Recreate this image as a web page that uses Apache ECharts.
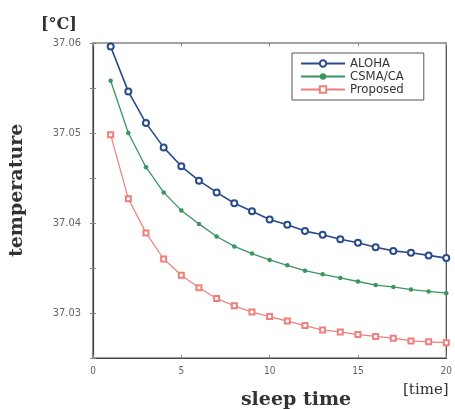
<!DOCTYPE html>
<html><head><meta charset="utf-8">
<script src="https://cdn.jsdelivr.net/npm/echarts@6/dist/echarts.min.js"></script>
<style>html,body{margin:0;padding:0;background:#fff}#c{width:455px;height:409px}</style>
</head><body><div id="c"></div>
<script>
const xValues = [1,2,3,4,5,6,7,8,9,10,11,12,13,14,15,16,17,18,19,20];
const aloha = [37.0596,37.0546,37.0511,37.0484,37.0463,37.0447,37.0434,37.0422,37.0413,37.0404,37.0398,37.0391,37.0387,37.0382,37.0378,37.0373,37.0369,37.0367,37.0364,37.0361];
const csma = [37.0558,37.0500,37.0462,37.0434,37.0414,37.0399,37.0385,37.0374,37.0366,37.0359,37.0353,37.0347,37.0343,37.0339,37.0335,37.0331,37.0329,37.0326,37.0324,37.0322];
const proposed = [37.0498,37.0427,37.0389,37.0360,37.0342,37.0328,37.0316,37.0308,37.0301,37.0296,37.0291,37.0286,37.0281,37.0279,37.0276,37.0274,37.0272,37.0269,37.0268,37.0267];
const seriesNames = ['ALOHA','CSMA/CA','Proposed'];
const yLabels = ['37.03','37.04','37.05','37.06'];
const xLabels = ['0','5','10','15','20'];

const pair = arr => xValues.map((x,i)=>[x,arr[i]]);
const tickFont = '"DejaVu Sans Condensed","DejaVu Sans",sans-serif';
const serif = '"DejaVu Serif","Liberation Serif",serif';
const chart = echarts.init(document.getElementById('c'));
chart.setOption({
  animation:false,
  backgroundColor:'#fff',
  grid:{left:93,right:7,top:43,bottom:51,show:true,borderColor:'#444',borderWidth:1.2},
  title:[
    {text:'[°C]',left:36,top:12,textStyle:{fontFamily:serif,fontSize:16,fontWeight:'bold',color:'#333'}},
    {text:'sleep time',left:291,top:386,textAlign:'center',textStyle:{fontFamily:serif,fontSize:19,fontWeight:'bold',color:'#333'}},
    {text:'[time]',left:398,top:378,textStyle:{fontFamily:serif,fontSize:15,fontWeight:'normal',color:'#333'}}
  ],
  graphic:[{type:'text',x:8,y:257,rotation:Math.PI/2,originX:0,originY:0,
    style:{text:'temperature',font:'bold 19px "DejaVu Serif", serif',fill:'#333'}}],
  legend:{left:292,top:53,orient:'vertical',itemGap:0,itemWidth:44,itemHeight:8,
    padding:[4,20,4,8],borderColor:'#555',borderWidth:1,backgroundColor:'#fff',
    textStyle:{fontFamily:tickFont,fontSize:13,lineHeight:12,color:'#333'},data:seriesNames},
  xAxis:[{type:'value',min:0,max:20,interval:5,
    axisLine:{show:true,lineStyle:{color:'#444',width:1.2}},
    axisTick:{show:true,inside:true,length:3,lineStyle:{color:'#888'}},
    splitLine:{show:false},
    axisLabel:{margin:8,fontFamily:tickFont,fontSize:10,color:'#666',
      formatter:v=>xLabels[Math.round(v/5)]}},
    {type:'value',position:'top',min:0,max:20,interval:5,axisLine:{show:false},
    axisTick:{show:true,inside:true,length:3,lineStyle:{color:'#888'}},axisLabel:{show:false},splitLine:{show:false}}],
  yAxis:[{type:'value',min:37.025,max:37.06,interval:0.005,
    axisLine:{show:true,lineStyle:{color:'#444',width:1.2}},
    axisTick:{show:true,inside:true,length:3,lineStyle:{color:'#888'}},
    splitLine:{show:false},
    axisLabel:{margin:12,fontFamily:tickFont,fontSize:11,color:'#666',
      formatter:v=>{const i=Math.round((v-37.03)/0.01*1000)/1000;return Number.isInteger(i)&&i>=0&&i<yLabels.length?yLabels[i]:'';}}},
    {type:'value',position:'right',min:37.025,max:37.06,interval:0.005,axisLine:{show:false},
    axisTick:{show:true,inside:true,length:3,lineStyle:{color:'#888'}},axisLabel:{show:false},splitLine:{show:false}}],
  series:[
    {name:seriesNames[0],type:'line',data:pair(aloha),symbol:'emptyCircle',symbolSize:6,
      itemStyle:{color:'#2a4a8e',borderWidth:1.5},lineStyle:{color:'#2a4a8e',width:1.6}},
    {name:seriesNames[1],type:'line',data:pair(csma),symbol:'circle',symbolSize:4.5,
      itemStyle:{color:'#3a9660'},lineStyle:{color:'#3a9660',width:1.3}},
    {name:seriesNames[2],type:'line',data:pair(proposed),symbol:'emptyRect',symbolSize:5,
      itemStyle:{color:'#ee7f7a',borderWidth:1.2},lineStyle:{color:'#ee7f7a',width:1.2}}
  ]
});
</script></body></html>
